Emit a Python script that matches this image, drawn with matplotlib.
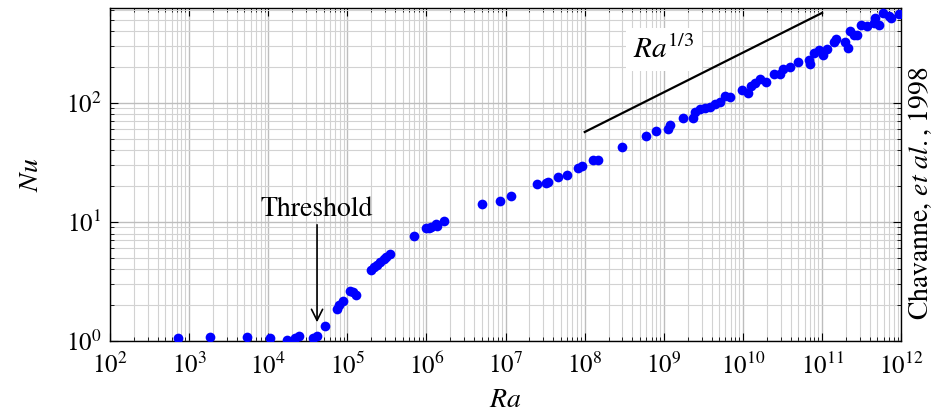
import numpy as np
import matplotlib
matplotlib.use("Agg")
import matplotlib.pyplot as plt
from matplotlib.ticker import LogLocator, NullFormatter

plt.rcParams['font.family'] = ['STIXGeneral', 'DejaVu Serif']
plt.rcParams['mathtext.fontset'] = 'stix'

# Chavanne et al. 1998 data
ra = [730, 1840, 5350, 10500, 17100, 21800, 24500, 37200, 41800,
      51500, 73400, 78500, 88300, 108000, 119000, 127000,
      199600, 218000, 237600, 259000, 287000, 308500, 346500,
      7.03e5, 9.88e5, 1.08e6, 1.14e6, 1.32e6, 1.36e6, 1.68e6,
      5.0e6, 8.5e6, 1.16e7, 2.52e7, 3.25e7, 3.48e7, 4.66e7, 5.94e7,
      8.34e7, 9.19e7, 1.29e8, 1.47e8, 2.94e8, 5.97e8, 8.0e8,
      1.14e9, 1.20e9, 1.77e9, 2.32e9, 2.49e9, 2.88e9, 3.33e9, 3.85e9,
      4.45e9, 5.05e9, 5.96e9, 6.89e9, 9.68e9, 1.17e10, 1.26e10,
      1.43e10, 1.65e10, 1.96e10, 2.43e10, 2.95e10, 3.19e10, 3.95e10,
      4.89e10, 6.73e10, 7.08e10, 7.95e10, 9.01e10, 1.04e11, 1.15e11,
      1.42e11, 1.51e11, 1.96e11, 2.10e11, 2.27e11, 2.50e11, 2.76e11,
      3.12e11, 3.69e11, 4.47e11, 4.69e11, 5.16e11, 5.85e11, 7.10e11,
      7.40e11, 9.5e11]
nu = [1.07, 1.09, 1.09, 1.07, 1.02, 1.07, 1.10, 1.07, 1.10,
      1.34, 1.86, 2.01, 2.18, 2.66, 2.57, 2.46,
      3.99, 4.19, 4.39, 4.61, 4.89, 5.08, 5.44,
      7.63, 8.85, 8.99, 9.13, 9.56, 9.25, 10.2,
      14.1, 15.0, 16.5, 20.9, 21.3, 21.8, 24.0, 25.0,
      28.3, 29.6, 32.9, 32.9, 42.9, 52.8, 58.5,
      60.5, 65.3, 75.2, 74.3, 84.5, 88.5, 90.2, 93.1,
      97.5, 102.6, 114.5, 113, 128.6, 122, 139,
      146.5, 158, 151, 175, 175, 192, 202,
      222, 230, 213, 262, 279, 253, 283,
      327, 343, 327, 288, 405, 373, 373,
      452, 438, 468, 515, 452, 567, 538,
      515, 560]

fit_ra = np.array([1e8, 1e11])
fit_nu = 0.1228 * fit_ra ** (1 / 3)

fig = plt.figure(figsize=(9.32, 4.13), dpi=100)
ax = fig.add_axes([0.118, 0.174, 0.849, 0.807])

ax.plot(ra, nu, 'o', color='#0000ff', ms=7, mec='none', zorder=3)
ax.plot(fit_ra, fit_nu, color='black', lw=1.6, zorder=3)

ax.set_xscale('log')
ax.set_yscale('log')
ax.set_xlim(1e2, 1e12)
ax.set_ylim(1, 628)
ax.xaxis.set_major_locator(LogLocator(base=10, numticks=20))
ax.xaxis.set_minor_locator(LogLocator(base=10, subs=np.arange(2, 10), numticks=200))
ax.xaxis.set_minor_formatter(NullFormatter())

ax.grid(True, which='major', color='#bdbdbd', lw=1.0)
ax.grid(True, which='minor', color='#d2d2d2', lw=0.8)
ax.set_axisbelow(True)
ax.tick_params(which='both', direction='in', top=True, right=True, labelsize=18)
ax.tick_params(axis='x', which='major', pad=9)
ax.tick_params(axis='y', which='major', pad=6)
ax.tick_params(which='major', length=6, width=0.8)
ax.tick_params(which='minor', length=3, width=0.6)
for s in ax.spines.values():
    s.set_linewidth(1.0)

ax.set_xlabel('$Ra$', fontsize=20, labelpad=6)
ax.set_ylabel('$Nu$', fontsize=20, labelpad=16)

ax.text(1e9, 280, '$Ra^{1/3}$', fontsize=21, ha='center', va='center',
        bbox=dict(facecolor='white', edgecolor='none', pad=5))

ax.annotate('Threshold', xy=(4.14e4, 1.44), xytext=(4.14e4, 10.0),
            fontsize=20, ha='center', va='bottom',
            arrowprops=dict(arrowstyle='->', color='black', lw=1.2,
                            shrinkA=0, shrinkB=0))

fig.text(0.987, 0.533, r'Chavanne, $\it{et\ al.}$, 1998', fontsize=20,
         rotation=90, ha='center', va='center')

fig.savefig('out.png', dpi=100)
